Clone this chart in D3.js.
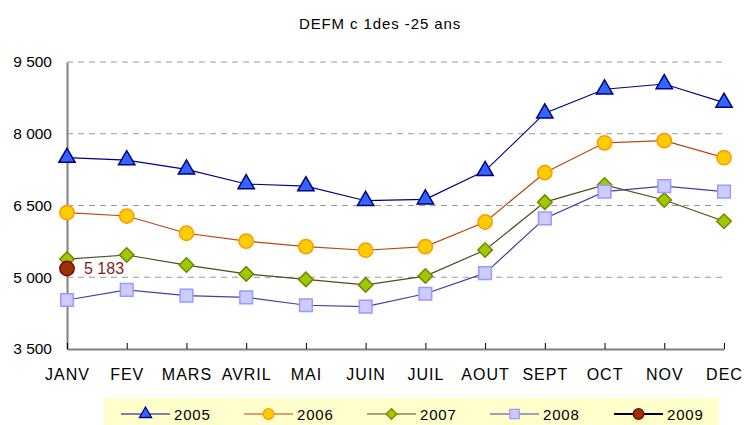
<!DOCTYPE html>
<html>
<head>
<meta charset="utf-8">
<script src="https://cdn.jsdelivr.net/npm/d3@7"></script>
<style>
  body { margin: 0; background: #fff; }
  text { font-family: "Liberation Sans", Arial, sans-serif; fill: #000; }
</style>
</head>
<body>
<svg id="chart" width="744" height="425"></svg>
<script>
// Chart data
const months = ["JANV", "FEV", "MARS", "AVRIL", "MAI", "JUIN", "JUIL", "AOUT", "SEPT", "OCT", "NOV", "DEC"];
const yTicks = [3500, 5000, 6500, 8000, 9500];
const s2005 = [7500, 7450, 7255, 6950, 6905, 6600, 6630, 7225, 8430, 8930, 9040, 8650];
const s2006 = [6350, 6280, 5920, 5755, 5640, 5565, 5640, 6155, 7185, 7810, 7855, 7500];
const s2007 = [5380, 5465, 5255, 5070, 4955, 4840, 5025, 5570, 6570, 6930, 6615, 6170];
const s2008 = [4525, 4735, 4615, 4580, 4415, 4385, 4655, 5085, 6230, 6790, 6905, 6790];
const s2009 = [5183];
const seriesNames = ["2005", "2006", "2007", "2008", "2009"];

const styles = {
  "2005": { line: "#000080", fill: "#3366ff", stroke: "#000080", shape: d3.symbolTriangle, size: 115, rot: 0 },
  "2006": { line: "#b84a10", fill: "#ffcc00", stroke: "#ff9900", shape: d3.symbolCircle, size: 160, rot: 0 },
  "2007": { line: "#4d4d1a", fill: "#99cc00", stroke: "#808000", shape: d3.symbolSquare, size: 105, rot: 45 },
  "2008": { line: "#4040a0", fill: "#ccccff", stroke: "#9999ff", shape: d3.symbolSquare, size: 160, rot: 0 },
  "2009": { line: "#000000", fill: "#993300", stroke: "#800000", shape: d3.symbolCircle, size: 160, rot: 0 }
};

const svg = d3.select("#chart");
const dims = { left: 67, right: 724, top: 62, bottom: 349 };

const x = d3.scalePoint().domain(months).range([dims.left, dims.right]).padding(0);
const y = d3.scaleLinear().domain([3500, 9500]).range([dims.bottom, dims.top]);

const fmt = v => d3.format(",")(v).replace(",", " ");

// Title
svg.append("text")
  .attr("x", 380).attr("y", 29)
  .attr("text-anchor", "middle")
  .style("font-size", "15px")
  .style("letter-spacing", "0.9px")
  .text("DEFM c 1des -25 ans");

// Grid lines
svg.append("g")
  .selectAll("line")
  .data(yTicks.filter(t => t > 3500))
  .enter().append("line")
    .attr("x1", dims.left).attr("x2", dims.right)
    .attr("y1", d => y(d)).attr("y2", d => y(d))
    .attr("stroke", "#999")
    .attr("stroke-width", 1.2)
    .attr("stroke-dasharray", "6,5");

// Y axis
const yAxis = svg.append("g")
  .attr("transform", `translate(${dims.left},0)`)
  .call(d3.axisLeft(y).tickValues(yTicks).tickSize(0).tickPadding(15).tickFormat(fmt));
yAxis.select(".domain").attr("stroke", "#808080").attr("stroke-width", 2);
yAxis.selectAll("text").style("font-size", "15.5px").style("font-family", "Liberation Sans, Arial, sans-serif");

// X axis (ticks pointing inward)
const xAxis = svg.append("g")
  .attr("transform", `translate(0,${dims.bottom})`)
  .call(d3.axisBottom(x).tickSize(-6).tickPadding(0).tickSizeOuter(0));
xAxis.select(".domain").attr("stroke", "#808080").attr("stroke-width", 2);
xAxis.selectAll(".tick line").attr("stroke", "#000").attr("stroke-width", 1);
xAxis.selectAll("text")
  .attr("y", 20)
  .style("font-size", "16px")
  .style("letter-spacing", "1px")
  .style("font-family", "Liberation Sans, Arial, sans-serif");

// Series
const allSeries = [s2005, s2006, s2007, s2008, s2009];
const line = d3.line().x((d, i) => x(months[i])).y(d => y(d));

allSeries.forEach((vals, k) => {
  const st = styles[seriesNames[k]];
  const g = svg.append("g");
  g.append("path")
    .datum(vals)
    .attr("fill", "none")
    .attr("stroke", st.line)
    .attr("stroke-width", 1.2)
    .attr("d", line);
  g.selectAll("path.marker")
    .data(vals)
    .enter().append("path")
      .attr("class", "marker")
      .attr("transform", (d, i) => `translate(${x(months[i])},${y(d)}) rotate(${st.rot})`)
      .attr("d", d3.symbol().type(st.shape).size(st.size))
      .attr("fill", st.fill)
      .attr("stroke", st.stroke)
      .attr("stroke-width", 1.5);
});

// 2009 data label
svg.append("text")
  .attr("x", x(months[0]) + 17)
  .attr("y", y(s2009[0]) + 6)
  .style("font-size", "16px")
  .style("fill", "#8b1a1a")
  .text(fmt(s2009[0]));

// Legend
const legend = svg.append("g");
legend.append("rect")
  .attr("x", 104).attr("y", 398)
  .attr("width", 615).attr("height", 30)
  .attr("fill", "#ffffcc");

const legendX = [121, 244, 367, 490, 614];
seriesNames.forEach((name, k) => {
  const st = styles[name];
  const lx = legendX[k];
  const ly = 414;
  legend.append("line")
    .attr("x1", lx).attr("x2", lx + 49)
    .attr("y1", ly).attr("y2", ly)
    .attr("stroke", st.line)
    .attr("stroke-width", name === "2009" ? 2 : 1.2);
  legend.append("path")
    .attr("transform", `translate(${lx + 24.5},${ly}) rotate(${st.rot})`)
    .attr("d", d3.symbol().type(st.shape).size(st.size * 0.55))
    .attr("fill", st.fill)
    .attr("stroke", st.stroke)
    .attr("stroke-width", 1.3);
  legend.append("text")
    .attr("x", lx + 53)
    .attr("y", ly + 6)
    .style("font-size", "15px")
    .style("letter-spacing", "0.8px")
    .text(name);
});
</script>
</body>
</html>
